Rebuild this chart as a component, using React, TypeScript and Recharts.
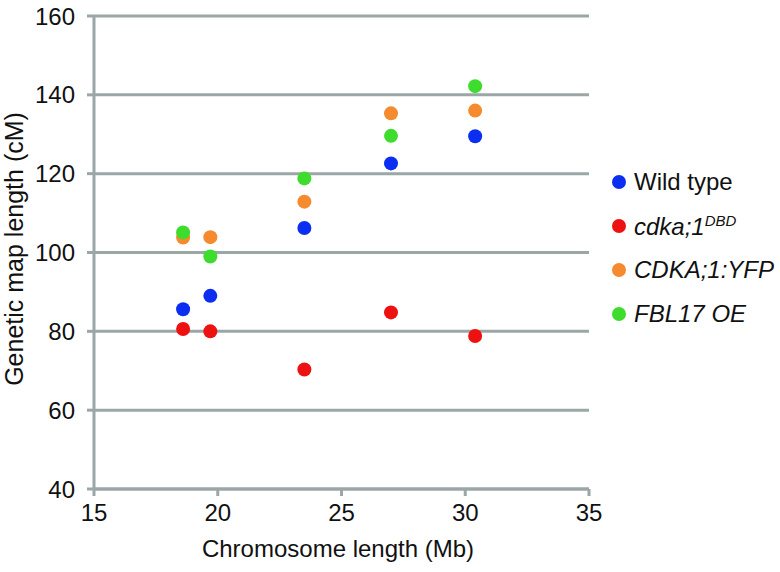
import React from 'react'
import { CartesianGrid, Label, Scatter, ScatterChart, XAxis, YAxis } from 'recharts'

const chromosomeLength = [18.6, 19.7, 23.5, 27.0, 30.4]
const wildType = [85.6, 89.0, 106.2, 122.6, 129.5]
const cdka1 = [80.6, 80.0, 70.3, 84.8, 78.8]
const cdkaYfp = [103.8, 103.9, 112.9, 135.3, 136.0]
const fbl17 = [105.1, 99.0, 118.8, 129.6, 142.2]

const xTicks = [15, 20, 25, 30, 35]
const yTicks = [40, 60, 80, 100, 120, 140, 160]

const toPoints = (values: number[]) => chromosomeLength.map((x, i) => ({ x, y: values[i] }))

const series = [
  { key: 'wt', name: 'Wild type', color: '#0c2ef0', data: toPoints(wildType) },
  { key: 'cdka', name: 'cdka;1', sup: 'DBD', color: '#ee1111', data: toPoints(cdka1) },
  { key: 'yfp', name: 'CDKA;1:YFP', color: '#f58a2e', data: toPoints(cdkaYfp) },
  { key: 'fbl', name: 'FBL17 OE', color: '#3edc2c', data: toPoints(fbl17) },
]

const grey = '#9ba6a6'
const font = 'Liberation Sans, Arial, sans-serif'

const Dot = (props: any) => <circle cx={props.cx} cy={props.cy} r={7} fill={props.fill} />

function ChartLegend() {
  return (
    <div style={{ position: 'absolute', left: 612, top: 160, fontFamily: font, fontSize: 24, color: '#111' }}>
      {series.map((s, i) => (
        <div key={s.key} style={{ display: 'flex', alignItems: 'center', height: 44 }}>
          <span style={{ width: 14, height: 14, borderRadius: 7, background: s.color, marginRight: 8 }} />
          <span style={{ fontStyle: i === 0 ? 'normal' : 'italic' }}>
            {s.name}
            {s.sup && <sup style={{ fontSize: 15 }}>{s.sup}</sup>}
          </span>
        </div>
      ))}
    </div>
  )
}

export default function App() {
  return (
    <div style={{ position: 'absolute', left: 0, top: 0, width: 780, height: 572, background: '#fff' }}>
      <ScatterChart width={780} height={572} margin={{ top: 16, right: 191, left: 0, bottom: 0 }}>
        <CartesianGrid vertical={false} stroke={grey} strokeWidth={3} />
        <XAxis
          type="number"
          dataKey="x"
          domain={[15, 35]}
          ticks={xTicks}
          height={83}
          axisLine={{ stroke: grey, strokeWidth: 3 }}
          tickLine={{ stroke: grey, strokeWidth: 3 }}
          tickSize={7}
          tickMargin={8}
          tick={{ fill: '#111', fontSize: 24, fontFamily: font }}
        >
          <Label
            content={() => (
              <text x={338} y={557} textAnchor="middle" fill="#111" fontSize={24} fontFamily={font}>
                Chromosome length (Mb)
              </text>
            )}
          />
        </XAxis>
        <YAxis
          type="number"
          dataKey="y"
          domain={[40, 160]}
          ticks={yTicks}
          width={94}
          axisLine={{ stroke: grey, strokeWidth: 3 }}
          tickLine={{ stroke: grey, strokeWidth: 3 }}
          tickSize={7}
          tickMargin={12}
          tick={{ fill: '#111', fontSize: 24, fontFamily: font }}
        >
          <Label
            content={() => (
              <text
                x={23}
                y={249}
                transform="rotate(-90 23 249)"
                textAnchor="middle"
                fill="#111"
                fontSize={25}
                fontFamily={font}
              >
                Genetic map length (cM)
              </text>
            )}
          />
        </YAxis>
        {series.map((s) => (
          <Scatter
            key={s.key}
            name={s.name}
            data={s.data}
            fill={s.color}
            shape={Dot}
            isAnimationActive={false}
          />
        ))}
      </ScatterChart>
      <ChartLegend />
    </div>
  )
}
